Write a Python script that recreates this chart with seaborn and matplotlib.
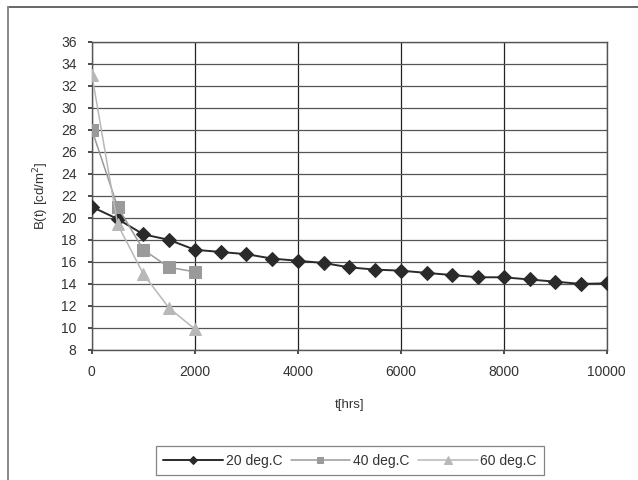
"""
Luminance decay B(t) at three temperatures
"""

import numpy as np
import pandas as pd
import matplotlib
matplotlib.use("Agg")
import matplotlib.pyplot as plt
from matplotlib.lines import Line2D
import seaborn as sns

# 20 deg.C : mesures toutes les 500 h jusqu'a 10000 h
t_20 = [0, 500, 1000, 1500, 2000, 2500, 3000, 3500, 4000, 4500, 5000,
        5500, 6000, 6500, 7000, 7500, 8000, 8500, 9000, 9500, 10000]
b_20 = [21.0, 19.9, 18.5, 18.0, 17.1, 16.9, 16.7, 16.3, 16.1, 15.9, 15.5,
        15.3, 15.2, 15.0, 14.8, 14.6, 14.6, 14.4, 14.2, 14.0, 14.05]

# 40 et 60 deg.C : jusqu'a 2000 h
t_40 = [0, 500, 1000, 1500, 2000]
b_40 = [28.0, 21.0, 17.1, 15.5, 15.1]

t_60 = [0, 500, 1000, 1500, 2000]
b_60 = [33.0, 19.4, 14.9, 11.8, 9.9]

x_ticks = [0, 2000, 4000, 6000, 8000, 10000]
y_ticks = list(range(8, 37, 2))

sns.set_theme(style="white")
plt.rcParams["font.family"] = ["Liberation Sans", "DejaVu Sans"]

fig = plt.figure(figsize=(6.38, 4.8), dpi=100)
ax = fig.add_axes([0.144, 0.271, 0.807, 0.642])

series = [
    (t_20, b_20, "20 deg.C", "#2a2a2a", "D", 7, 1.4),
    (t_40, b_40, "40 deg.C", "#9a9a9a", "s", 8, 1.1),
    (t_60, b_60, "60 deg.C", "#b8b8b8", "^", 9, 1.1),
]
for t, b, label, color, marker, ms, lw in series:
    df = pd.DataFrame({"t": t, "B": b})
    sns.lineplot(data=df, x="t", y="B", ax=ax, color=color, marker=marker,
                 markersize=ms, markeredgecolor=color, linewidth=lw,
                 label=label, zorder=3)

ax.set_xlim(0, 10000)
ax.set_ylim(8, 36)
ax.set_xticks(x_ticks)
ax.set_yticks(y_ticks)
ax.grid(True, axis="y", color="#555555", linewidth=0.9)
ax.grid(True, axis="x", color="#222222", linewidth=0.9)
ax.set_axisbelow(True)
for side in ["left", "bottom", "right", "top"]:
    ax.spines[side].set_color("#555555")
    ax.spines[side].set_linewidth(1.0)
ax.tick_params(axis="both", labelsize=10, colors="#333333", length=3,
               direction="out", left=True, bottom=True, pad=8)

ax.set_xlabel("t[hrs]", fontsize=9.5, color="#333333", labelpad=14)
ax.set_ylabel("B(t) [cd/m$^2$]", fontsize=9.5, color="#333333", labelpad=7)

leg = ax.legend(loc="upper center", bbox_to_anchor=(350 / 638, 1 - 446 / 480),
                bbox_transform=fig.transFigure, ncol=3, fontsize=10,
                frameon=True, fancybox=False, handlelength=4.3,
                markerscale=0.6, columnspacing=0.6, handletextpad=0.2,
                borderpad=0.55, borderaxespad=0.0)
leg.get_frame().set_edgecolor("#666666")
leg.get_frame().set_linewidth(0.9)
for txt in leg.get_texts():
    txt.set_color("#333333")

# cadre : seulement le bord haut et le bord gauche sont visibles
fig.add_artist(Line2D([8 / 638, 1.0], [1 - 7 / 480, 1 - 7 / 480],
                      transform=fig.transFigure, color="#666666", linewidth=1.4))
fig.add_artist(Line2D([8 / 638, 8 / 638], [0.0, 1 - 7 / 480],
                      transform=fig.transFigure, color="#888888", linewidth=1.4))

plt.savefig("out.png", dpi=100)
plt.close()
